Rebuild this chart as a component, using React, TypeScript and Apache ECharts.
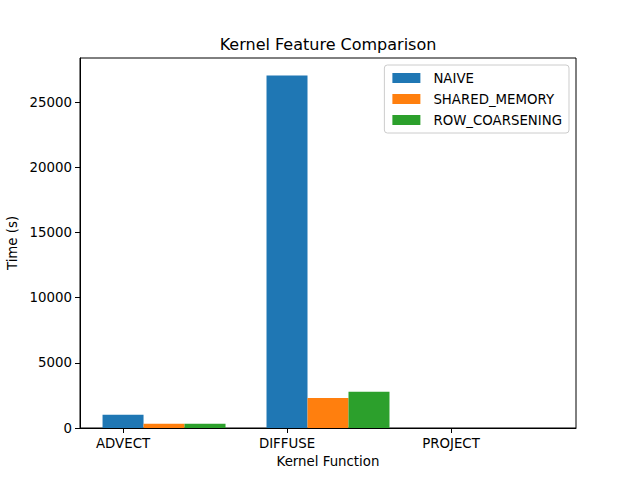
import React, { useEffect, useRef } from "react";
import * as echarts from "echarts";

const categories = ["ADVECT", "DIFFUSE", "PROJECT"];
const seriesNames = ["NAIVE", "SHARED_MEMORY", "ROW_COARSENING"];
const naive = [1010, 27050, 5];
const sharedMemory = [320, 2300, 2];
const rowCoarsening = [320, 2780, 2];
const yTicks = [0, 5000, 10000, 15000, 20000, 25000];
const colors = ["#1f77b4", "#ff7f0e", "#2ca02c"];

const FONT = "DejaVu Sans";
// x axis in integer units: one category = 80 units, one bar = 20 units
const UNIT = 80;
const BAR_W = 20;

export default function App() {
  const ref = useRef<HTMLDivElement>(null);
  useEffect(() => {
    if (!ref.current) return;
    const chart = echarts.init(ref.current, undefined, { renderer: "svg" });
    const allSeries = [naive, sharedMemory, rowCoarsening];
    const maxVal = Math.max(...allSeries.flat());
    const nCat = categories.length;
    const dataMin = -BAR_W / 2;
    const dataMax = (nCat - 1) * UNIT + 2 * BAR_W + BAR_W / 2;
    const margin = (dataMax - dataMin) * 0.05;
    const xTickVals = categories.map((_, i) => i * UNIT);
    const series = allSeries.map((vals, k) => ({
      type: "custom",
      name: seriesNames[k],
      itemStyle: { color: colors[k] },
      data: vals.map((v, i) => [i * UNIT, v]),
      renderItem: (params: any, api: any) => {
        const x = api.value(0);
        const v = api.value(1);
        const cx = x + k * BAR_W;
        const p0 = api.coord([cx - BAR_W / 2, v]);
        const p1 = api.coord([cx + BAR_W / 2, 0]);
        return {
          type: "rect",
          shape: { x: p0[0], y: p0[1], width: p1[0] - p0[0], height: p1[1] - p0[1] },
          style: { fill: colors[k] },
        };
      },
    }));
    chart.setOption({
      animation: false,
      textStyle: { fontFamily: FONT },
      grid: {
        left: 80,
        right: 64,
        top: 58,
        bottom: 52,
        outerBoundsMode: "none",
        containLabel: false,
        show: true,
        borderColor: "#000",
        borderWidth: 1,
        backgroundColor: "transparent",
      },
      graphic: [
        {
          type: "text",
          x: 328,
          y: 44,
          style: {
            text: "Kernel Feature Comparison",
            font: `16px ${FONT}`,
            fill: "#000",
            align: "center",
            verticalAlign: "middle",
          },
        },
      ],
      legend: {
        orient: "vertical",
        right: 71,
        top: 65,
        padding: [6, 7, 6, 8],
        itemWidth: 28,
        itemHeight: 10,
        itemGap: 7,
        borderColor: "#cccccc",
        borderWidth: 1,
        borderRadius: 3,
        backgroundColor: "rgba(255,255,255,0.8)",
        textStyle: {
          fontFamily: FONT,
          fontSize: 13.33,
          lineHeight: 14,
          color: "#000",
          padding: [0, 0, 0, 8],
        },
        data: seriesNames.map((n, k) => ({ name: n, icon: "rect", itemStyle: { color: colors[k] } })),
      },
      xAxis: {
        type: "value",
        min: dataMin - margin,
        max: dataMax + margin,
        interval: 1,
        name: "Kernel Function",
        nameLocation: "middle",
        nameGap: 27,
        nameTextStyle: { fontFamily: FONT, fontSize: 13.33, color: "#000" },
        splitLine: { show: false },
        axisLine: { show: true, onZero: false, lineStyle: { color: "#000", width: 1 } },
        axisTick: { show: true, length: 5, lineStyle: { color: "#000" }, customValues: xTickVals },
        axisLabel: {
          customValues: xTickVals,
          formatter: (v: number) => categories[Math.round(v / UNIT)] ?? "",
          fontFamily: FONT,
          fontSize: 13.33,
          color: "#000",
          margin: 9,
        },
      },
      yAxis: {
        type: "value",
        min: 0,
        max: maxVal * 1.05,
        name: "Time (s)",
        nameLocation: "middle",
        nameGap: 60,
        nameTextStyle: { fontFamily: FONT, fontSize: 13.33, color: "#000" },
        splitLine: { show: false },
        axisLine: { show: true, onZero: false, lineStyle: { color: "#000", width: 1 } },
        axisTick: { show: true, length: 5, lineStyle: { color: "#000" }, customValues: yTicks },
        axisLabel: {
          customValues: yTicks,
          formatter: (v: number) => String(v),
          fontFamily: FONT,
          fontSize: 13.33,
          color: "#000",
          margin: 8,
        },
      },
      series,
    });
    return () => chart.dispose();
  }, []);
  return <div ref={ref} style={{ width: 640, height: 480, position: "absolute", left: 0, top: 0 }} />;
}
